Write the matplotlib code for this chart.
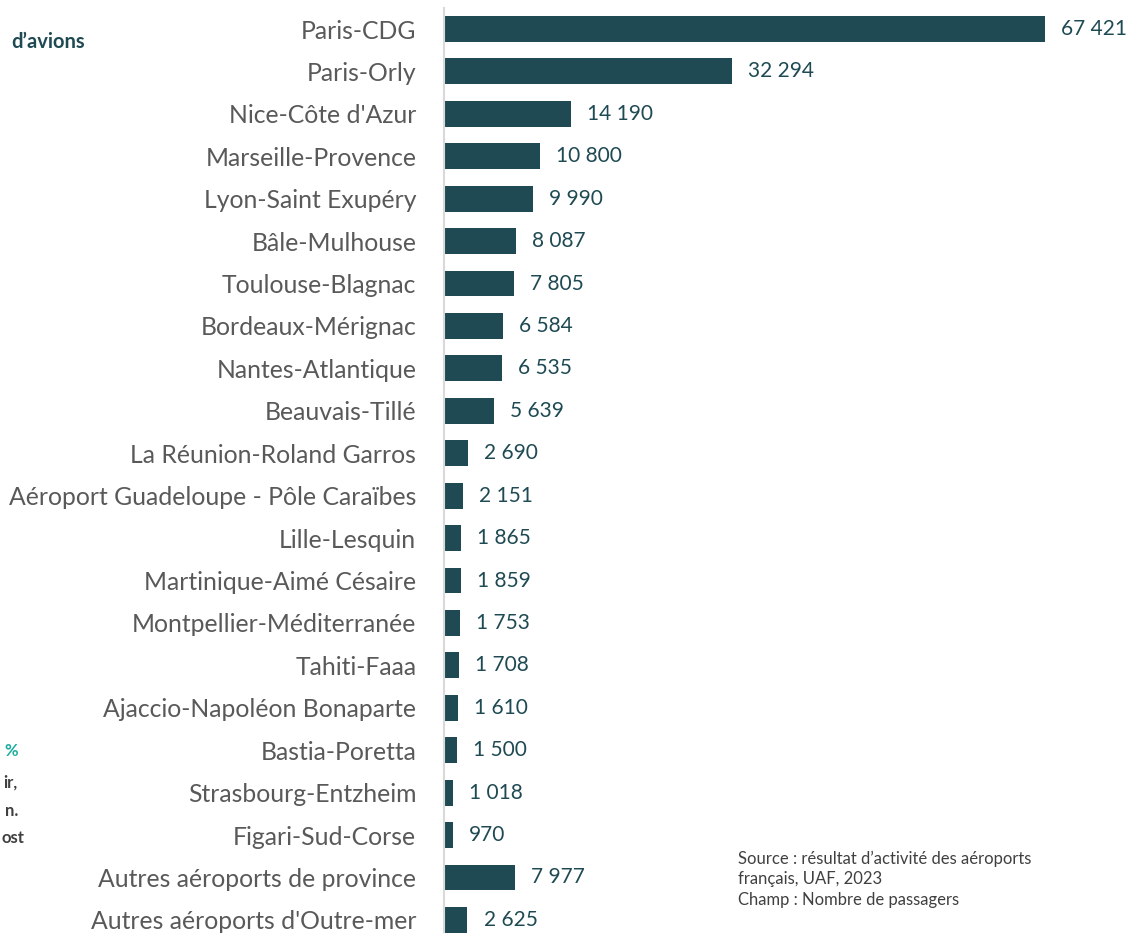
import matplotlib
matplotlib.use("Agg")
import matplotlib.pyplot as plt

airports = ["Paris-CDG", "Paris-Orly", "Nice-Côte d'Azur", "Marseille-Provence",
            "Lyon-Saint Exupéry", "Bâle-Mulhouse", "Toulouse-Blagnac", "Bordeaux-Mérignac",
            "Nantes-Atlantique", "Beauvais-Tillé", "La Réunion-Roland Garros",
            "Aéroport Guadeloupe - Pôle Caraïbes", "Lille-Lesquin", "Martinique-Aimé Césaire",
            "Montpellier-Méditerranée", "Tahiti-Faaa", "Ajaccio-Napoléon Bonaparte",
            "Bastia-Poretta", "Strasbourg-Entzheim", "Figari-Sud-Corse",
            "Autres aéroports de province", "Autres aéroports d'Outre-mer"]
passengers = [67421, 32294, 14190, 10800, 9990, 8087, 7805, 6584, 6535, 5639, 2690,
              2151, 1865, 1859, 1753, 1708, 1610, 1500, 1018, 970, 7977, 2625]

plt.rcParams['font.family'] = ['Lato', 'DejaVu Sans']

W, H = 1128, 933
fig = plt.figure(figsize=(W / 100, H / 100), dpi=100)
ax_left = 443 / W
ax_bottom = -8.1 / H
ax = fig.add_axes([ax_left, ax_bottom, 1 - ax_left, 933.3 / H])

bar_color = "#1F4A53"
y = list(range(len(airports)))
ax.barh(y, passengers, height=0.61, color=bar_color, left=0)
ax.set_ylim(len(airports) - 0.5, -0.5)
ax.set_xlim(-120, 76700)

def fmt(v):
    return f"{v:,}".replace(",", " ")

for yi, v in zip(y, passengers):
    ax.text(v + 1800, yi, fmt(v), va="center", ha="left", fontsize=15,
            color="#1F4A53")

ax.set_yticks(y)
ax.set_yticklabels(airports)
ax.tick_params(axis="y", length=0, pad=20, labelsize=17.8, labelcolor="#595959")
ax.set_xticks([])
for s in ["top", "right", "bottom"]:
    ax.spines[s].set_visible(False)
ax.spines["left"].set_color("#D9D9D9")
ax.spines["left"].set_linewidth(1.5)
ax.spines["left"].set_position(("data", 0))

# Fragments of surrounding slide text
fig.text(85 / W, 1 - 42 / H, "d’avions", ha="right", va="center", fontsize=14.5,
         fontweight="bold", color="#1F4A53")
fig.text(18 / W, 1 - 751 / H, "%", ha="right", va="center", fontsize=12,
         fontweight="bold", color="#1AADA0")
fig.text(18 / W, 1 - 783 / H, "ir,", ha="right", va="center", fontsize=12,
         fontweight="bold", color="#404040")
fig.text(18 / W, 1 - 811 / H, "n.", ha="right", va="center", fontsize=12,
         fontweight="bold", color="#404040")
fig.text(1 / W, 1 - 838 / H, "ost", ha="left", va="center", fontsize=12,
         fontweight="bold", color="#404040")

fig.text(738 / W, 1 - 879 / H,
         "Source : résultat d’activité des aéroports\nfrançais, UAF, 2023\nChamp : Nombre de passagers",
         ha="left", va="center", fontsize=12, color="#404040", linespacing=1.35)

fig.savefig("out.png", dpi=100)
